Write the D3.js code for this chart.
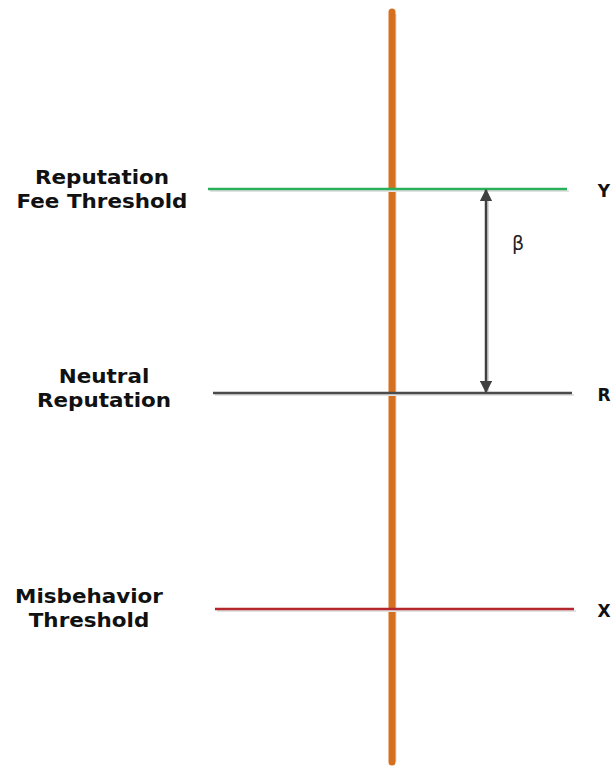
<!DOCTYPE html>
<html>
<head>
<meta charset="utf-8">
<script src="https://cdn.jsdelivr.net/npm/d3@7"></script>
<style>
  html, body { margin: 0; padding: 0; background: #fff; }
  svg { display: block; }
</style>
</head>
<body>
<svg id="chart"></svg>
<script>
// Reputation scale levels (0 = bottom of the bar, 100 = top)
const levelNames = ["Y", "R", "X"];
const levelValues = [76.4, 49.2, 20.4];
const levelLabels = [
  ["Reputation", "Fee Threshold"],
  ["Neutral", "Reputation"],
  ["Misbehavior", "Threshold"]
];
const betaLabel = "β";
const scaleDomain = [0, 100];

const WIDTH = 613;
const HEIGHT = 766;

const colors = { Y: "#2ab05a", R: "#4a4a4a", X: "#b3262b" };
// small horizontal shifts of each level line, in px
const lineShift = { Y: -4, R: 1, X: 3 };
const labelCenter = { Y: 102, R: 104, X: 89 };
const labelOffset = { Y: -5, R: -10, X: -6 };

const svg = d3.select("#chart").attr("width", WIDTH).attr("height", HEIGHT);

const scaleY = d3.scaleLinear().domain(scaleDomain).range([762, 12]);
const scaleX = d3.scaleLinear().domain([0, 1]).range([212, 571]);
const barX = 392;

const defs = svg.append("defs");
["start", "end"].forEach(k => {
  defs.append("marker")
    .attr("id", "arrow-" + k)
    .attr("viewBox", "0 0 10 10")
    .attr("refX", 9).attr("refY", 5)
    .attr("markerWidth", 5).attr("markerHeight", 5)
    .attr("markerUnits", "strokeWidth")
    .attr("orient", k === "start" ? "auto-start-reverse" : "auto")
    .append("path")
    .attr("d", "M0,0 L10,5 L0,10 z")
    .attr("fill", "#404040");
});

const levels = levelNames.map((name, i) => ({
  name, value: levelValues[i], label: levelLabels[i]
}));

// vertical bar (shadow then bar)
svg.append("line")
  .attr("x1", barX + 3).attr("x2", barX + 3)
  .attr("y1", scaleY(scaleDomain[1]) + 2).attr("y2", scaleY(scaleDomain[0]))
  .style("stroke", "#d6d6d6").style("stroke-width", 3);
svg.append("line")
  .attr("x1", barX).attr("x2", barX)
  .attr("y1", scaleY(scaleDomain[1])).attr("y2", scaleY(scaleDomain[0]))
  .style("stroke", "#d5701f").style("stroke-width", 7)
  .style("stroke-linecap", "round");

// horizontal level lines
const g = svg.selectAll("g.level").data(levels).join("g").attr("class", "level");

g.append("line")
  .attr("x1", d => scaleX(0) + lineShift[d.name] + 2)
  .attr("x2", d => scaleX(1) + lineShift[d.name] + 2)
  .attr("y1", d => scaleY(d.value) + 2)
  .attr("y2", d => scaleY(d.value) + 2)
  .style("stroke", "#e2e2e2").style("stroke-width", 2);

g.append("line")
  .attr("x1", d => scaleX(0) + lineShift[d.name])
  .attr("x2", d => scaleX(1) + lineShift[d.name])
  .attr("y1", d => scaleY(d.value))
  .attr("y2", d => scaleY(d.value))
  .style("stroke", d => colors[d.name]).style("stroke-width", 2.5);

// left labels (slightly widened, like the source)
g.append("text")
  .attr("transform", d =>
    `translate(${labelCenter[d.name]},${scaleY(d.value) + labelOffset[d.name]}) scale(1.13,1)`)
  .attr("text-anchor", "middle")
  .style("font-family", "'DejaVu Sans', sans-serif")
  .style("font-weight", 700)
  .style("font-size", "19px")
  .style("fill", "#111")
  .selectAll("tspan")
  .data(d => d.label)
  .join("tspan")
  .attr("x", 0)
  .attr("dy", (d, i) => i === 0 ? 0 : 24)
  .text(d => d);

// right letters
g.append("text")
  .attr("x", 604)
  .attr("y", d => scaleY(d.value) + 8)
  .attr("text-anchor", "middle")
  .style("font-family", "'DejaVu Sans', sans-serif")
  .style("font-weight", 700)
  .style("font-size", "17px")
  .style("fill", "#111")
  .text(d => d.name);

// beta arrow between Y and R
const yTop = scaleY(levelValues[0]);
const yMid = scaleY(levelValues[1]);
const arrowX = 486;
svg.append("line")
  .attr("x1", arrowX + 2).attr("x2", arrowX + 2)
  .attr("y1", yTop + 4).attr("y2", yMid - 2)
  .style("stroke", "#d8d8d8").style("stroke-width", 2);
svg.append("line")
  .attr("x1", arrowX).attr("x2", arrowX)
  .attr("y1", yTop + 1).attr("y2", yMid - 1)
  .attr("marker-start", "url(#arrow-start)")
  .attr("marker-end", "url(#arrow-end)")
  .style("stroke", "#404040").style("stroke-width", 2.5);

svg.append("text")
  .attr("x", 518)
  .attr("y", scaleY(d3.mean([levelValues[0], levelValues[1]])) - 41)
  .attr("text-anchor", "middle")
  .style("font-family", "'DejaVu Sans', sans-serif")
  .style("font-size", "19px")
  .style("fill", "#222")
  .text(betaLabel);
</script>
</body>
</html>
